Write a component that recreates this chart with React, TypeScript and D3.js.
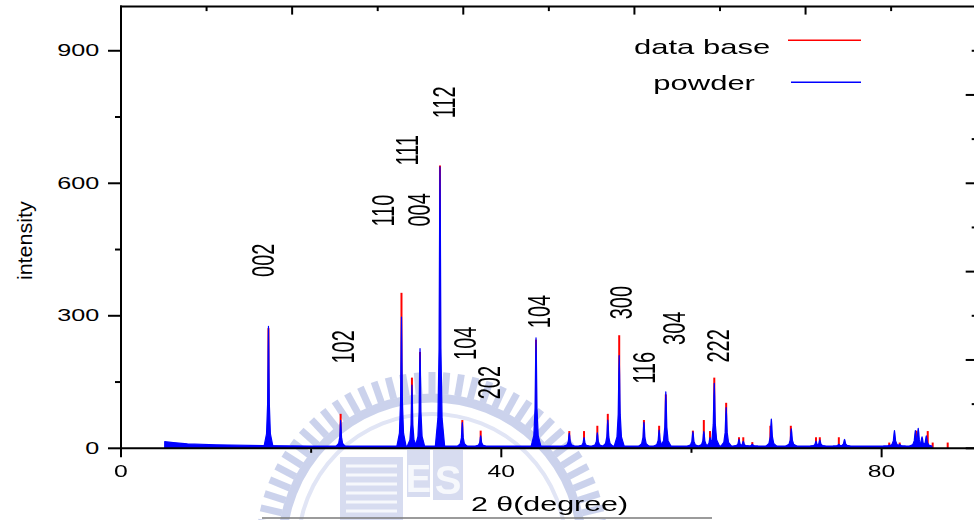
import React from 'react';
import * as d3 from 'd3';

const W = 974;
const H = 520;

// Measured powder pattern: peak positions (2θ, degrees) and peak counts
const powderAngles = [15.51, 23.1, 29.5, 30.6, 31.45, 33.55, 35.9, 37.83, 43.65, 47.15, 48.7, 50.1, 51.2, 52.4, 55.0, 56.6, 57.3, 60.15, 61.3, 61.95, 62.4, 63.65, 65.0, 65.45, 66.4, 68.4, 70.5, 73.1, 73.5, 75.5, 76.1, 80.8, 81.35, 81.9, 83.55, 83.85, 84.25, 84.7];
const powderIntensity = [276, 63, 297, 143, 226, 637, 58, 28, 250, 34, 24, 35, 64, 210, 59, 41, 128, 37, 38, 24, 147, 92, 20, 16, 9, 66, 44, 16, 19, 9, 20, 7, 40, 9, 40, 45, 26, 28];

// Background level of the powder scan
const baselineAngles = [4.6, 5.5, 7, 10, 15, 20, 30, 40, 50, 60, 70, 80, 84.9];
const baselineIntensity = [15, 13, 10, 8, 6, 5, 5, 5, 5, 5, 5, 5, 5];

// Reference (data base) reflections
const dbAngles = [15.51, 23.1, 29.5, 30.6, 31.45, 33.55, 35.9, 37.83, 43.65, 47.15, 48.7, 50.1, 51.2, 52.4, 55.0, 56.6, 57.3, 60.15, 61.3, 61.95, 62.4, 63.65, 65.0, 65.45, 66.4, 68.3, 70.45, 73.1, 73.5, 75.5, 80.8, 81.9, 83.65, 84.85, 85.37, 86.95];
const dbIntensity = [272, 78, 352, 160, 218, 640, 64, 40, 246, 39, 39, 51, 78, 256, 64, 51, 122, 40, 64, 39, 160, 103, 25, 25, 14, 51, 51, 25, 25, 25, 13, 13, 40, 39, 13, 13];

// Miller index annotations: text, 2θ of label centre, intensity at label foot
const hklLabels = ['002', '102', '110', '004', '111', '112', '104', '202', '104', '300', '116', '304', '222'];
const hklAngles = [14.88, 23.34, 27.5, 31.34, 30.05, 33.89, 36.18, 38.63, 43.88, 52.53, 54.97, 58.16, 62.76];
const hklBase = [388, 192, 502, 502, 640, 747, 200, 111, 272, 292, 146, 234, 194];

// Axis ticks
const yMajor = [0, 300, 600, 900];
const yMinor = [150, 450, 750];
const xMajor = [0, 40, 80];
const xMinor = [20, 60];
const topMajor = [18, 36, 54, 72];
const topMinor = [9, 27, 45, 63, 81];
const rightMajor = [0, 200, 400, 600, 800];
const rightMinor = [100, 300, 500, 700, 900];

const FONT = 'Liberation Sans, Arial, Helvetica, sans-serif';

const x = d3.scaleLinear().domain([0, 90]).range([121, 976.7]);
const y = d3.scaleLinear().domain([0, 1000]).range([448.3, 6.6]);
const background = d3.scaleLinear().domain(baselineAngles).range(baselineIntensity).clamp(true);

// spike outline: offsets in half-widths and fraction of peak height
const spikeOffsets = [-1, -0.45, -0.2, -0.08, 0, 0.08, 0.2, 0.45, 1];
const spikeFrac = [0, 0.1, 0.35, 0.8, 1, 0.8, 0.35, 0.1, 0];

const area = d3
  .area<[number, number]>()
  .x((d) => x(d[0]))
  .y0(y(0))
  .y1((d) => y(d[1]));

function spike(angle: number, height: number): [number, number][] {
  const hw = 0.42 + 0.002 * angle;
  return spikeOffsets.map((o, i) => {
    const a = angle + o * hw;
    const b = background(a);
    return [a, b + spikeFrac[i] * (height - b)];
  });
}

type TProps = {
  x: number;
  y: number;
  sx: number;
  fs: number;
  anchor?: string;
  rotate?: boolean;
  children: React.ReactNode;
};

function SText({ x: tx, y: ty, sx, fs, anchor = 'start', rotate = false, children }: TProps) {
  return (
    <text
      transform={`translate(${tx},${ty}) scale(${sx},1)${rotate ? ' rotate(-90)' : ''}`}
      fontSize={fs}
      fontFamily={FONT}
      textAnchor={anchor}
      fill="#000"
    >
      {children}
    </text>
  );
}

// faint university seal behind the plot
function Emblem() {
  const cx = 432;
  const cy = 548;
  const teeth = d3.range(0, 360, 4.8);
  const col = '#a9b5df';
  return (
    <g opacity={0.6}>
      {teeth.map((deg) => (
        <rect
          key={deg}
          x={-3.5}
          y={-176}
          width={7}
          height={22}
          fill={col}
          transform={`translate(${cx},${cy}) rotate(${deg})`}
        />
      ))}
      <circle cx={cx} cy={cy} r={150} fill="none" stroke={col} strokeWidth={9} />
      <circle cx={cx} cy={cy} r={134} fill="none" stroke="#cdd4ee" strokeWidth={4} />
      <rect x={340} y={457} width={63} height={63} fill="#bcc5e6" />
      {d3.range(466, 520, 9).map((yy) => (
        <line key={yy} x1={346} x2={397} y1={yy} y2={yy} stroke="#f1f3fb" strokeWidth={3} />
      ))}
      <rect x={407} y={450} width={23} height={47} fill="#bcc5e6" />
      <text x={418.5} y={492} fontSize={38} fontFamily={FONT} fontWeight="bold" textAnchor="middle" fill="#f1f3fb">
        E
      </text>
      <rect x={433} y={450} width={30} height={50} fill="#bcc5e6" />
      <text x={448} y={494} fontSize={40} fontFamily={FONT} fontWeight="bold" textAnchor="middle" fill="#f1f3fb">
        S
      </text>
    </g>
  );
}

export default function App() {
  const baseLine: [number, number][] = baselineAngles.map((a, i) => [a, baselineIntensity[i]]);
  const spikes = powderAngles.map((a, i) => spike(a, powderIntensity[i]));
  const x0 = x(0);
  const y0 = y(0);
  const xEnd = x(90);

  return (
    <svg width={W} height={H} style={{ position: 'absolute', left: 0, top: 0, background: '#fff' }}>
      <rect x={0} y={0} width={W} height={H} fill="#fff" />
      <Emblem />
      <line x1={262} x2={712} y1={518} y2={518} stroke="#7a7a7a" strokeWidth={1.5} />

      {/* data base sticks */}
      <g stroke="#ff0000" strokeWidth={2}>
        {dbAngles.map((a, i) => (
          <line key={i} x1={x(a)} x2={x(a)} y1={y0} y2={y(dbIntensity[i])} />
        ))}
      </g>

      {/* powder scan */}
      <g fill="#0000ff" stroke="#0000ff" strokeWidth={1.2} strokeLinejoin="round">
        <path d={area(baseLine) || ''} />
        {spikes.map((pts, i) => (
          <path key={i} d={area(pts) || ''} />
        ))}
      </g>

      {/* axes frame */}
      <g stroke="#000" strokeWidth={2} fill="none">
        <line x1={x0} x2={x0} y1={y(1000) - 1} y2={y0} />
        <line x1={x0 - 1} x2={xEnd} y1={y(1000)} y2={y(1000)} />
        <line x1={x0} x2={xEnd} y1={y0} y2={y0} />
        <line x1={xEnd} x2={xEnd} y1={y(1000)} y2={y0} />
        {yMajor.map((v) => (
          <line key={'ym' + v} x1={x0 - 13} x2={x0} y1={y(v)} y2={y(v)} />
        ))}
        {yMinor.map((v) => (
          <line key={'yn' + v} x1={x0 - 6} x2={x0} y1={y(v)} y2={y(v)} />
        ))}
        {xMajor.map((v) => (
          <line key={'xm' + v} x1={x(v)} x2={x(v)} y1={y0} y2={y0 + 9} />
        ))}
        {xMinor.map((v) => (
          <line key={'xn' + v} x1={x(v)} x2={x(v)} y1={y0} y2={y0 + 4.5} />
        ))}
        {topMajor.map((v) => (
          <line key={'tm' + v} x1={x(v)} x2={x(v)} y1={y(1000)} y2={y(1000) + 8} />
        ))}
        {topMinor.map((v) => (
          <line key={'tn' + v} x1={x(v)} x2={x(v)} y1={y(1000)} y2={y(1000) + 4.5} />
        ))}
        {rightMajor.map((v) => (
          <line key={'rm' + v} x1={xEnd - 11} x2={xEnd} y1={y(v)} y2={y(v)} />
        ))}
        {rightMinor.map((v) => (
          <line key={'rn' + v} x1={xEnd - 5} x2={xEnd} y1={y(v)} y2={y(v)} />
        ))}
      </g>

      {/* tick labels */}
      {yMajor.map((v) => (
        <SText key={'yl' + v} x={99.3} y={y(v) + 5.7} sx={1.48} fs={17} anchor="end">
          {String(v)}
        </SText>
      ))}
      {xMajor.map((v) => (
        <SText key={'xl' + v} x={x(v)} y={477.3} sx={1.5} fs={16.5} anchor="middle">
          {String(v)}
        </SText>
      ))}

      {/* axis titles */}
      <SText x={549.5} y={510.7} sx={1.56} fs={19.5} anchor="middle">
        2 θ(degree)
      </SText>
      <SText x={32} y={240.7} sx={0.95} fs={21.5} anchor="middle" rotate>
        intensity
      </SText>

      {/* Miller indices */}
      {hklLabels.map((t, i) => (
        <SText key={'h' + i} x={x(hklAngles[i]) + (0.716 * 20 * 1.6) / 2} y={y(hklBase[i])} sx={1.6} fs={20} rotate>
          {t}
        </SText>
      ))}

      {/* legend */}
      <SText x={634} y={54.3} sx={1.55} fs={20}>
        data base
      </SText>
      <line x1={788} x2={861} y1={40.3} y2={40.3} stroke="#ff0000" strokeWidth={1.5} />
      <SText x={653.3} y={90} sx={1.55} fs={20}>
        powder
      </SText>
      <line x1={791} x2={861} y1={82.3} y2={82.3} stroke="#0000ff" strokeWidth={1.5} />
    </svg>
  );
}
